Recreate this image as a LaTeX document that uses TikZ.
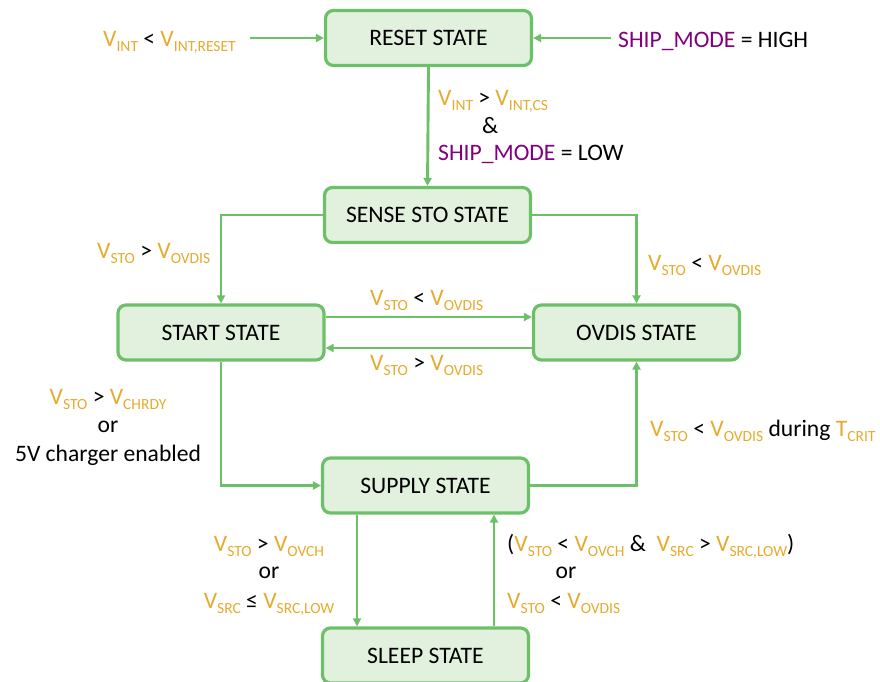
\documentclass[tikz,border=0pt]{standalone}
\usepackage{fontspec}
\setmainfont{Carlito}
\usetikzlibrary{arrows.meta}
\definecolor{gold}{RGB}{230,170,44}
\definecolor{shipc}{RGB}{128,0,128}
\definecolor{boxline}{RGB}{108,192,104}
\definecolor{boxfill}{RGB}{226,240,222}
% subscript used in the voltage labels
\newcommand\lo[1]{\raisebox{-5.5pt}{\fontsize{15.5}{15.5}\selectfont #1}}
\newcommand\Vs[1]{\textcolor{gold}{V\lo{#1}}}
\newcommand\ship{\textcolor{shipc}{SHIP\_MODE}}
\begin{document}
\begin{tikzpicture}[x=1pt,y=-1pt,
  every node/.style={font=\fontsize{23.6}{27}\selectfont, inner sep=0pt},
  statebox/.style={draw=boxline, fill=boxfill, line width=3.2pt, rounded corners=8pt,
    minimum width=206pt, minimum height=55pt},
  conn/.style={draw=boxline, line width=2.9pt, -{Triangle[length=8pt,width=8pt]}},
  lbl/.style={anchor=base west},
  clbl/.style={anchor=base}]
\useasboundingbox (0,0) rectangle (880,681);

% states
\node[statebox] (reset)  at (428.5,38)    {RESET STATE};
\node[statebox] (sense)  at (427.5,215)   {SENSE STO STATE};
\node[statebox] (start)  at (221,332.5)   {START STATE};
\node[statebox] (ovdis)  at (636.5,332.5) {OVDIS STATE};
\node[statebox] (supply) at (425.5,485.5) {SUPPLY STATE};
\node[statebox] (sleep)  at (425.5,655.5) {SLEEP STATE};

% free ends of the two reset triggers
\coordinate (rstin)  at (250,38);
\coordinate (shipin) at (611,38);

% transitions
\draw[conn] (rstin) -- (reset.west);
\draw[conn] (shipin) -- (reset.east);
\draw[conn] (reset.south) -- (sense.north);
\draw[conn] (sense.west) -| (start.north);
\draw[conn] (sense.east) -| (ovdis.north);
\draw[conn] (start.east |- 0,317) -- (ovdis.west |- 0,317);
\draw[conn] (ovdis.west |- 0,348) -- (start.east |- 0,348);
\draw[conn] (start.south) |- (supply.west);
\draw[conn] (supply.east) -| (ovdis.south);
\draw[conn] (supply.south -| 357,0) -- (sleep.north -| 357,0);
\draw[conn] (sleep.north -| 494,0) -- (supply.south -| 494,0);

% conditions
\node[lbl] (c1) at (103,46) {\Vs{INT} < \Vs{INT,RESET}};
\node[lbl] (c2) at (618,47) {\ship{} = HIGH};
\node[lbl] (c3a) at (438,105) {\Vs{INT} > \Vs{INT,CS}};
\node[lbl] (c3b) at (482,133) {\&};
\node[lbl] (c3c) at (438,160) {\ship{} = LOW};
\node[lbl] (c4) at (97,258) {\Vs{STO} > \Vs{OVDIS}};
\node[lbl] (c5) at (648,270) {\Vs{STO} < \Vs{OVDIS}};
\node[lbl] (c6) at (370,305) {\Vs{STO} < \Vs{OVDIS}};
\node[lbl] (c7) at (370,370) {\Vs{STO} > \Vs{OVDIS}};
\node[clbl] (c8a) at (108,404) {\Vs{STO} > \Vs{CHRDY}};
\node[clbl] (c8b) at (108,432) {or};
\node[clbl] (c8c) at (108,461) {5V charger enabled};
\node[lbl] (c9) at (650,436) {\Vs{STO} < \Vs{OVDIS} during \textcolor{gold}{T\lo{CRIT}}};
\node[clbl] (c10a) at (269,551) {\Vs{STO} > \Vs{OVCH}};
\node[clbl] (c10b) at (269,578) {or};
\node[clbl] (c10c) at (269,608) {\Vs{SRC} ≤ \Vs{SRC,LOW}};
\node[lbl] (c11a) at (507,551) {(\Vs{STO} < \Vs{OVCH} \&\ \ \Vs{SRC} > \Vs{SRC,LOW})};
\node[clbl] (c11b) at (566,578) {or};
\node[lbl] (c11c) at (507,608) {\Vs{STO} < \Vs{OVDIS}};
\end{tikzpicture}
\end{document}
